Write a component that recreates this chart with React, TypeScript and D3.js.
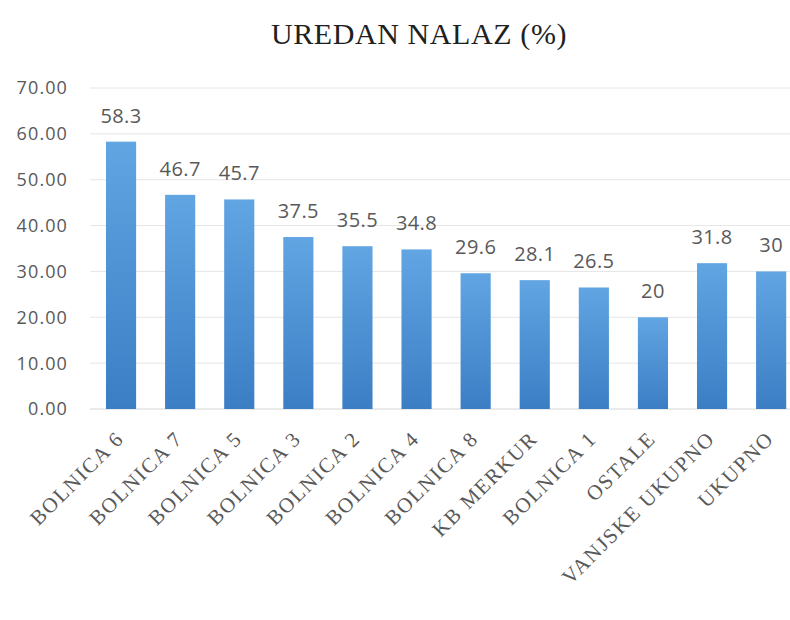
import React from "react";
import * as d3 from "d3";

const categories = ["BOLNICA 6","BOLNICA 7","BOLNICA 5","BOLNICA 3","BOLNICA 2","BOLNICA 4","BOLNICA 8","KB MERKUR","BOLNICA 1","OSTALE","VANJSKE UKUPNO","UKUPNO"];
const values = [58.3,46.7,45.7,37.5,35.5,34.8,29.6,28.1,26.5,20,31.8,30];
const yTicks = [0,10,20,30,40,50,60,70];
const title = "UREDAN NALAZ (%)";

export default function App() {
  const W = 790, H = 620;
  const step = 59.1;
  const x0 = 91.5;
  const x = d3.scaleBand<string>().domain(categories).range([x0, x0 + step * categories.length]).paddingInner(0.49).paddingOuter(0.245);
  const y = d3.scaleLinear().domain([0, 70]).range([409, 88]);
  const numFont = "'Open Sans', 'Noto Sans', sans-serif";
  return (
    <svg width={W} height={H} style={{ display: "block", position: "absolute", left: 0, top: 0, background: "#fff" }}>
      <defs>
        <linearGradient id="barGrad" x1="0" y1="0" x2="0" y2="1">
          <stop offset="0%" stopColor="#62a5e3" />
          <stop offset="100%" stopColor="#3b7ec4" />
        </linearGradient>
      </defs>
      <rect width={W} height={H} fill="#fff" />
      <text x={419} y={44} textAnchor="middle" fontFamily="'Liberation Serif', 'Times New Roman', serif" fontSize={30} letterSpacing={0.6} fill="#1f1f1f">{title}</text>
      {yTicks.map(t => (
        <g key={t}>
          <line x1={90} x2={W} y1={y(t)} y2={y(t)} stroke={t === 0 ? "#d6d6d6" : "#e6e6e6"} strokeWidth={1} />
          <text x={68} y={y(t)} dy="0.36em" textAnchor="end" fontFamily={numFont} fontSize={18} letterSpacing={1.1} fill="#595959">{t.toFixed(2)}</text>
        </g>
      ))}
      {categories.map((c, i) => {
        const bx = x(c)!;
        const bw = x.bandwidth();
        const cx = bx + bw / 2;
        const v = values[i];
        return (
          <g key={c}>
            <rect x={bx} y={y(v)} width={bw} height={y(0) - y(v)} fill="url(#barGrad)" />
            <text x={cx} y={y(v) - 19} textAnchor="middle" fontFamily={numFont} fontSize={20} letterSpacing={0.4} fill="#595959">{String(v)}</text>
            <text transform={`translate(${cx + 4},${440}) rotate(-45)`} textAnchor="end" fontFamily="'Liberation Serif', 'Times New Roman', serif" fontSize={21} letterSpacing={1.6} fill="#595959">{c}</text>
          </g>
        );
      })}
    </svg>
  );
}
